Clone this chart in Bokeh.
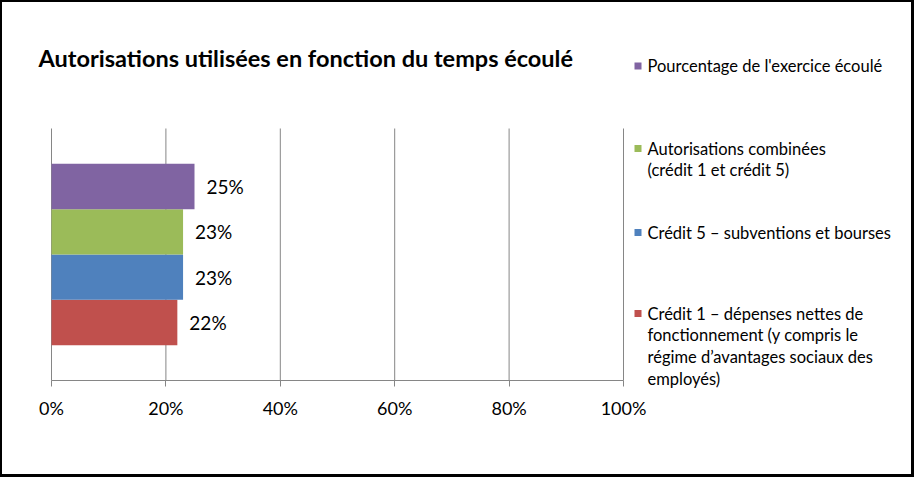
from bokeh.plotting import figure
from bokeh.models import Range1d, FixedTicker, NumeralTickFormatter, Label, ColumnDataSource
from bokeh.core.properties import value
from bokeh.embed import file_html
from bokeh.resources import INLINE

# ---- data ----
title_text = "Autorisations utilisées en fonction du temps écoulé"
series = [
    "Crédit 1 – dépenses nettes de\nfonctionnement (y compris le\nrégime d’avantages sociaux des\nemployés)",
    "Crédit 5 – subventions et bourses",
    "Autorisations combinées\n(crédit 1 et crédit 5)",
    "Pourcentage de l'exercice écoulé",
]
values = [0.22, 0.23, 0.23, 0.25]
colors = ["#C0504D", "#4F81BD", "#9BBB59", "#8064A2"]
x_ticks = [0, 0.2, 0.4, 0.6, 0.8, 1.0]

FONT = "Lato"
# picture size and frame border
W, H = 914, 477
BT, BL, BR, BB = 2, 2, 3, 3
BOTTOM_PANEL = 60

# plot-area placement in page pixels
PX0, PX1 = 51, 623      # 0% and 100%
PY0, PY1 = 380, 128     # y=0 (axis) and y=1 (top of gridlines)
XS = PX1 - PX0
YS = PY0 - PY1

def dx(px):
    return (px - PX0) / XS

def dy(py):
    return (PY0 - py) / YS

frame_left_page = BL
frame_right_page = BL + W
frame_top_page = BT
frame_bottom_page = BT + H - BOTTOM_PANEL

p = figure(width=W, height=H, output_backend="svg", toolbar_location=None,
           x_range=Range1d(dx(frame_left_page), dx(frame_right_page)),
           y_range=Range1d(dy(frame_bottom_page), dy(frame_top_page)),
           y_axis_location=None,
           min_border_left=0, min_border_right=0, min_border_top=0,
           min_border_bottom=BOTTOM_PANEL,
           background_fill_color="white", border_fill_color="white")
p.styles = {"border-style": "solid", "border-color": "black",
            "border-width": f"{BT}px {BR}px {BB}px {BL}px"}
p.outline_line_color = None
p.grid.visible = False

# gridlines (vertical, at tick positions, spanning the plot area)
p.segment(x0=x_ticks, x1=x_ticks, y0=[0] * len(x_ticks), y1=[1] * len(x_ticks),
          line_color="#868686", line_width=1)

bar_h = 0.18
centers = [0.5 + (i - (len(values) - 1) / 2) * bar_h for i in range(len(values))]
src = ColumnDataSource(dict(y=centers, right=values, color=colors,
                            lab=[f"{round(v * 100)}%" for v in values]))
p.hbar(y="y", left=0, right="right", height=bar_h, fill_color="color",
       line_color=None, source=src)
p.text(x="right", y="y", text="lab", source=src, x_offset=12,
       text_baseline="middle", text_align="left", text_font=value(FONT),
       text_font_size="19px", text_color="#000000")

# x axis (drawn at y = 0 inside the plot area)
ax = p.xaxis[0]
ax.fixed_location = 0
ax.bounds = (0, 1)
ax.ticker = FixedTicker(ticks=x_ticks)
ax.formatter = NumeralTickFormatter(format="0%")
ax.axis_line_color = "#868686"
ax.major_tick_line_color = "#868686"
ax.major_tick_out = 6
ax.major_tick_in = 0
ax.minor_tick_line_color = None
ax.major_label_text_font = FONT
ax.major_label_text_font_size = "18px"
ax.major_label_text_color = "#000000"
ax.major_label_standoff = 10

# title
p.add_layout(Label(x=dx(38), y=dy(57), text=title_text, text_font=FONT,
                   text_font_style="bold", text_font_size="23.5px",
                   text_baseline="middle", text_color="#000000"))

# legend (top to bottom: reverse order of series)
legend_y = [65.5, 148, 232, 313]
line_h = 21.8
order = list(reversed(range(len(series))))
sq = dict(x=[], y=[], c=[])
tx = dict(x=[], y=[], t=[])
for k, idx in enumerate(order):
    y0 = legend_y[k]
    sq["x"].append(dx(637.5)); sq["y"].append(dy(y0)); sq["c"].append(colors[idx])
    for j, line in enumerate(series[idx].split("\n")):
        tx["x"].append(dx(647)); tx["y"].append(dy(y0 + j * line_h)); tx["t"].append(line)
p.scatter(x="x", y="y", color="c", marker="square", size=7, line_color=None,
          source=ColumnDataSource(sq))
p.text(x="x", y="y", text="t", source=ColumnDataSource(tx), text_font=value(FONT),
       text_font_size="16.5px", text_baseline="middle", text_align="left",
       text_color="#000000")

open("out.html", "w").write(file_html(p, INLINE))
